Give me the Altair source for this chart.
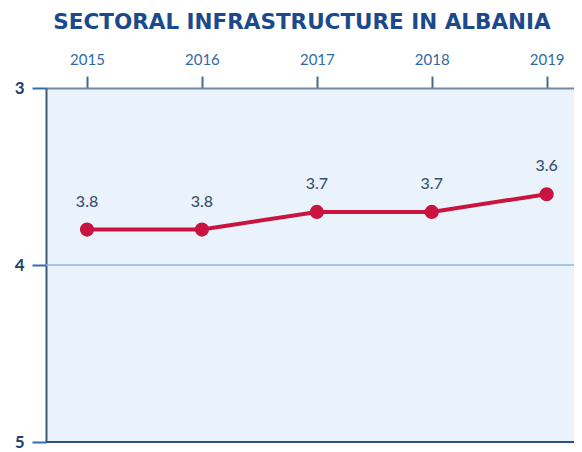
import altair as alt
import pandas as pd

years = [2015, 2016, 2017, 2018, 2019]
scores = [3.8, 3.8, 3.7, 3.7, 3.6]
labels = ["3.8", "3.8", "3.7", "3.7", "3.6"]
y_ticks = [3, 4, 5]
grid_values = [4]
bottom_values = [5]

df = pd.DataFrame({"year": years, "score": scores, "label": labels})
grid_df = pd.DataFrame({"v": grid_values})
bottom_df = pd.DataFrame({"v": bottom_values})

x_scale = alt.Scale(domain=[2014.643, 2019.238], nice=False, zero=False)
y_scale = alt.Scale(domain=[y_ticks[0], y_ticks[-1]], reverse=True, nice=False, zero=False)

x_axis = alt.Axis(orient="top", values=years, format="d", title=None,
                  tickSize=12, tickColor="#4a6a88", tickWidth=2,
                  domainColor="#6f8aa3", domainWidth=2,
                  labelFont="Lato", labelFontSize=15, labelColor="#2f6aa8",
                  labelPadding=9, grid=False, labelFlush=False)
y_axis = alt.Axis(orient="left", tickCount=len(y_ticks) - 1, format="d", title=None,
                  tickSize=14, tickColor="#2f6db0", tickWidth=2,
                  domainColor="#3d5a7a", domainWidth=2,
                  labelFont="Lato", labelFontSize=17, labelFontWeight="bold",
                  labelColor="#1f3f6e", labelPadding=8, grid=False,
                  labelOverlap=False, labelFlush=False, labelBound=False)

grid = alt.Chart(grid_df).mark_rule(color="#8fb4dc", strokeWidth=1.5).encode(
    y=alt.Y("v:Q", scale=y_scale, axis=y_axis, title=None)
)
bottom = alt.Chart(bottom_df).mark_rule(color="#2c4f8c", strokeWidth=2).encode(
    y=alt.Y("v:Q", scale=y_scale, axis=y_axis, title=None)
)

base = alt.Chart(df)
line = base.mark_line(color="#c8143e", strokeWidth=4).encode(
    x=alt.X("year:Q", scale=x_scale, axis=x_axis, title=None),
    y=alt.Y("score:Q", scale=y_scale, axis=y_axis, title=None),
)
points = base.mark_point(filled=True, color="#c8143e", size=200, opacity=1).encode(
    x=alt.X("year:Q", scale=x_scale, axis=x_axis, title=None),
    y=alt.Y("score:Q", scale=y_scale, axis=y_axis, title=None),
)
texts = base.mark_text(font="Lato", fontSize=16, fontWeight=500, color="#3a5270",
                       baseline="alphabetic", dy=-23).encode(
    x=alt.X("year:Q", scale=x_scale, axis=x_axis, title=None),
    y=alt.Y("score:Q", scale=y_scale, axis=y_axis, title=None),
    text="label:N",
)

chart = alt.layer(grid, bottom, line, points, texts).properties(
    width=528,
    height=354,
    padding={"left": 38, "top": 80, "right": 0, "bottom": 10},
    autosize=alt.AutoSizeParams(type="none"),
    background="white",
    title=alt.TitleParams(
        "SECTORAL INFRASTRUCTURE IN ALBANIA",
        font="DejaVu Sans", fontSize=21.5, fontWeight="bold", color="#1b4a8c",
        anchor="middle", dx=-8, offset=19,
    ),
).configure_view(fill="#eaf2fb", stroke=None)

chart.save("out.html", embed_options={"renderer": "svg", "actions": False})
